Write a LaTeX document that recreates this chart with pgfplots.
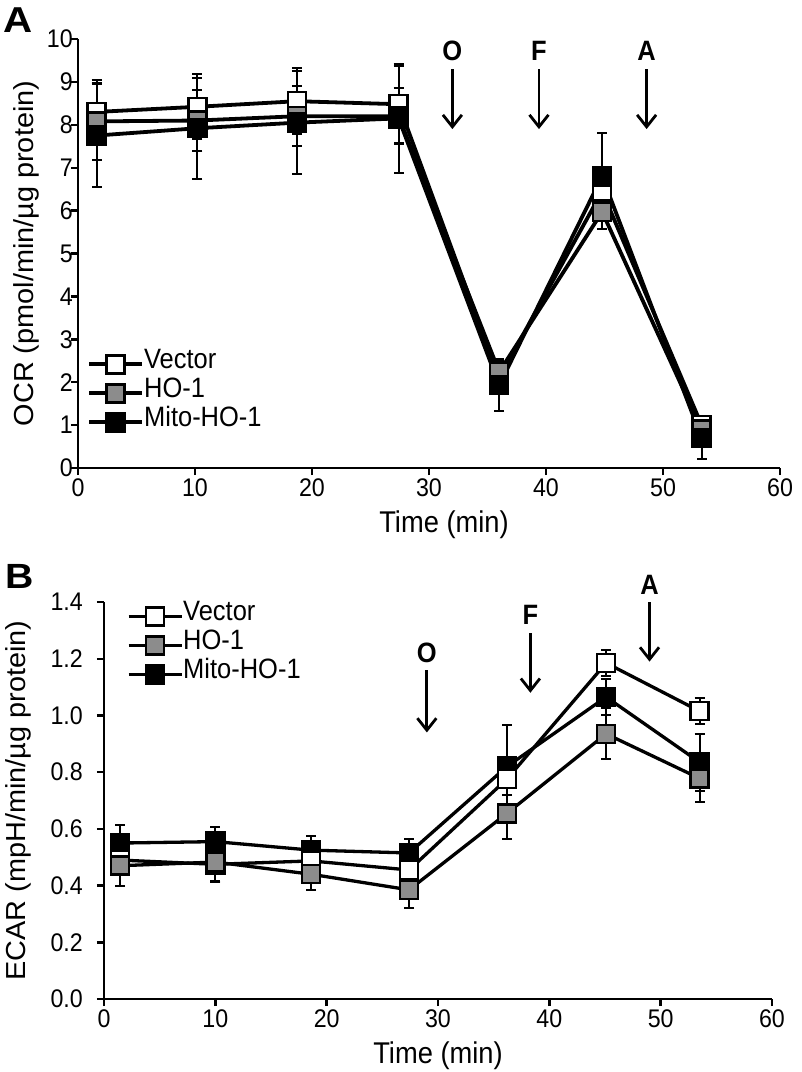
\documentclass[border=0pt]{standalone}
\usepackage{fontspec}
\setmainfont{Liberation Sans}
\newfontfamily\hfont[FakeStretch=0.91]{Liberation Sans}
\newfontfamily\yfont[FakeStretch=1.05]{Liberation Sans}
\newfontfamily\pfont[FakeStretch=1.12]{Liberation Sans}
\usepackage{pgfplots}
\usepackage{pgfplotstable}
\pgfplotsset{compat=1.18}
\usetikzlibrary{arrows.meta}
\definecolor{hogray}{RGB}{140,140,140}
\tikzset{arr/.style={line width=2.8pt, -{Straight Barb[length=12pt, width=19pt, line width=2.8pt]}}}

\pgfplotstableread{
t y e
1.6 8.30 0.75
10.2 8.42 0.76
18.7 8.55 0.77
27.4 8.48 0.90
36.0 2.10 0.30
44.8 6.45 0.40
53.3 1.00 0.10
}\Avec
\pgfplotstableread{
t y e
1.6 8.08 0.90
10.2 8.10 0.70
18.7 8.20 0.70
27.4 8.20 0.65
36.0 2.24 0.25
44.8 5.97 0.40
53.3 0.90 0.15
}\Ahoi
\pgfplotstableread{
t y e
1.6 7.75 1.20
10.2 7.92 1.18
18.7 8.05 1.20
27.4 8.15 1.27
36.0 1.93 0.60
44.8 6.80 1.00
53.3 0.70 0.50
}\Amito
\pgfplotstableread{
t y e
1.45 0.490 0.030
10.0 0.475 0.060
18.6 0.487 0.030
27.4 0.455 0.030
36.2 0.776 0.055
45.1 1.185 0.045
53.5 1.015 0.045
}\Bvec
\pgfplotstableread{
t y e
1.45 0.470 0.070
10.0 0.483 0.070
18.6 0.440 0.055
27.4 0.385 0.065
36.2 0.655 0.090
45.1 0.935 0.090
53.5 0.778 0.085
}\Bhoi
\pgfplotstableread{
t y e
1.45 0.550 0.065
10.0 0.555 0.050
18.6 0.525 0.050
27.4 0.515 0.050
36.2 0.820 0.145
45.1 1.065 0.065
53.5 0.835 0.100
}\Bmito

\pgfplotsset{
  base/.style={
    scale only axis, axis lines=left,
    axis line style={line width=2.4pt, -},
    tick style={line width=2.4pt, black},
    major tick length=7pt, tick align=outside,
    xmin=0, xmax=60, xtick={0,10,...,60},
    tick label style={font=\hfont\fontsize{25.5}{25.5}\selectfont},
    xticklabel style={inner ysep=3.5pt},
    /pgf/number format/assume math mode=true,
    xlabel={Time (min)},
    xlabel style={font=\hfont\fontsize{30}{30}\selectfont, at={(rel axis cs:0.5,0)}, anchor=north, inner sep=0pt, yshift=-43pt},
    ylabel style={font=\yfont\fontsize{27.5}{27.5}\selectfont, anchor=north, inner sep=0pt},
    clip=false,
    legend cell align=left,
    legend style={draw=none, fill=none, inner sep=0pt, row sep=0pt,
      font=\hfont\fontsize{28}{28}\selectfont,
      nodes={inner sep=0pt, text height=19pt, text depth=10pt},
      /tikz/every even column/.append style={column sep=3pt}},
    legend image code/.code={\draw[mark repeat=2,mark phase=2,##1] plot coordinates {(0pt,0pt) (26.5pt,0pt) (53pt,0pt)};},
  },
  ser/.style={black, line width=3.8pt, mark=square*, mark size=9pt,
    mark options={line width=2.5pt, draw=black, fill=#1, solid},
    error bars/y dir=both, error bars/y explicit,
    error bars/error bar style={line width=2pt, black},
    error bars/error mark options={rotate=90, mark size=5pt, line width=2pt, black}},
}

\begin{document}
\begin{tikzpicture}
\path[use as bounding box] (0,0) rectangle (802pt,-1072pt);

\node[anchor=base west, inner sep=0pt, font=\pfont\bfseries\fontsize{36}{36}\selectfont] at (3pt,-32pt) {A};
\node[anchor=base west, inner sep=0pt, font=\pfont\bfseries\fontsize{35}{35}\selectfont] at (5pt,-588pt) {B};

% Panel A
\begin{axis}[base, at={(78pt,-468pt)}, anchor=south west,
  width=702pt, height=429pt,
  ymin=0, ymax=10, ytick={0,1,...,10},
  yticklabel style={inner xsep=0pt, xshift=2pt},
  ylabel={OCR (pmol/min/µg protein)},
  ylabel style={at={(rel axis cs:-0.0926,0.5)}},
  xlabel style={xshift=15pt},
  legend style={at={(rel axis cs:0.013,0.276)}, anchor=north west},
]
\addplot+[ser=white] table[x=t, y=y, y error=e] {\Avec};
\addlegendentry{Vector}
\addplot+[ser=hogray] table[x=t, y=y, y error=e] {\Ahoi};
\addlegendentry{HO-1}
\addplot+[ser=black] table[x=t, y=y, y error=e] {\Amito};
\addlegendentry{Mito-HO-1}
\foreach \xx/\lab in {32/O, 39.4/F, 48.6/A}{
  \edef\tmp{\noexpand\draw[arr] (axis cs:\xx,9.3) -- (axis cs:\xx,7.9);
  \noexpand\node[font=\noexpand\hfont\noexpand\bfseries\noexpand\fontsize{28}{28}\noexpand\selectfont, anchor=center] at (axis cs:\xx,9.72) {\lab};}
  \tmp
}
\end{axis}

% Panel B
\begin{axis}[base, at={(104pt,-999pt)}, anchor=south west,
  width=668pt, height=397pt,
  ymin=0, ymax=1.4, ytick={0,0.2,...,1.4},
  yticklabel style={inner xsep=0pt, xshift=-14pt, /pgf/number format/.cd, fixed, fixed zerofill, precision=1},
  ylabel={ECAR (mpH/min/µg protein)},
  ylabel style={at={(rel axis cs:-0.1482,0.5)}},
  legend style={at={(rel axis cs:0.034,1.001)}, anchor=north west},
]
\addlegendimage{ser=white, line width=3.3pt}
\addlegendentry{Vector}
\addlegendimage{ser=hogray, line width=3.3pt}
\addlegendentry{HO-1}
\addlegendimage{ser=black, line width=3.3pt}
\addlegendentry{Mito-HO-1}
\addplot+[ser=black, line width=3.3pt, forget plot] table[x=t, y=y, y error=e] {\Bmito};
\addplot+[ser=white, line width=3.3pt, forget plot] table[x=t, y=y, y error=e] {\Bvec};
\addplot+[ser=hogray, line width=3.3pt, forget plot] table[x=t, y=y, y error=e] {\Bhoi};
\foreach \xx/\yl/\ya/\yb/\lab in {29/1.22/1.16/0.94/O, 38.3/1.354/1.29/1.08/F, 49.0/1.46/1.40/1.19/A}{
  \edef\tmp{\noexpand\draw[arr] (axis cs:\xx,\ya) -- (axis cs:\xx,\yb);
  \noexpand\node[font=\noexpand\hfont\noexpand\bfseries\noexpand\fontsize{28}{28}\noexpand\selectfont, anchor=center] at (axis cs:\xx,\yl) {\lab};}
  \tmp
}
\end{axis}
\end{tikzpicture}
\end{document}
